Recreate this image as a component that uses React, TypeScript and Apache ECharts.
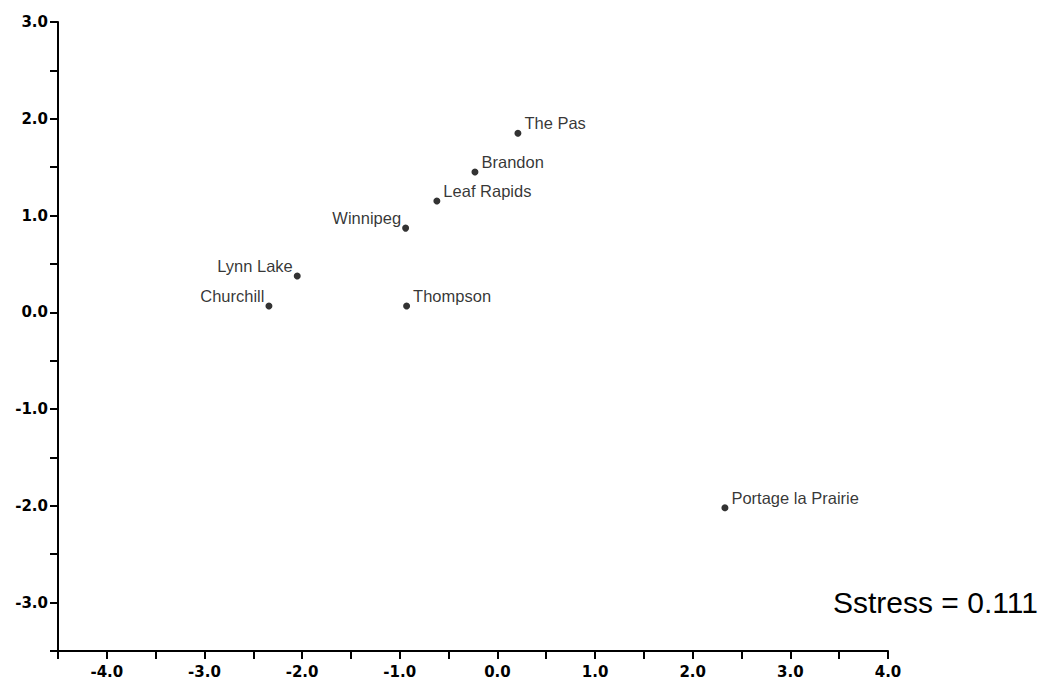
import React, { useEffect, useRef } from "react";
import * as echarts from "echarts";

const cities = ["The Pas", "Brandon", "Leaf Rapids", "Winnipeg", "Lynn Lake", "Churchill", "Thompson", "Portage la Prairie"];
const dimX = [0.21, -0.23, -0.62, -0.94, -2.05, -2.34, -0.93, 2.33];
const dimY = [1.85, 1.45, 1.15, 0.87, 0.375, 0.065, 0.065, -2.02];
const labelSide = ["right", "right", "right", "left", "left", "left", "right", "right"];
const stressText = "Sstress = 0.111";

const fmt = (v: number) => (Math.abs(v - Math.round(v)) < 1e-9 ? v.toFixed(1) : "");

export default function App() {
  const ref = useRef<HTMLDivElement>(null);
  useEffect(() => {
    if (!ref.current) return;
    const chart = echarts.init(ref.current, null, { renderer: "svg" });
    const axisLabel = {
      color: "#000",
      fontFamily: "DejaVu Sans",
      fontSize: 15,
      fontWeight: "bold" as const,
      formatter: fmt,
      showMinLabel: true,
      showMaxLabel: true,
    };
    const axisLine = { show: true, onZero: false, lineStyle: { color: "#000", width: 2 } };
    const axisTick = { show: true, length: 8, lineStyle: { color: "#000", width: 2 } };
    chart.setOption({
      animation: false,
      backgroundColor: "#fff",
      grid: { left: 58, right: 162, top: 22, bottom: 35 },
      xAxis: {
        type: "value",
        min: -4.5,
        max: 4.0,
        interval: 0.5,
        axisLine,
        axisTick,
        splitLine: { show: false },
        axisLabel: { ...axisLabel, margin: 13 },
      },
      yAxis: {
        type: "value",
        min: -3.5,
        max: 3.0,
        interval: 0.5,
        axisLine,
        axisTick,
        splitLine: { show: false },
        axisLabel: { ...axisLabel, margin: 10 },
      },
      series: [
        {
          type: "scatter",
          symbol: "circle",
          symbolSize: 7,
          itemStyle: { color: "#000" },
          data: cities.map((name, i) => ({
            name,
            value: [dimX[i], dimY[i]],
            label: {
              show: true,
              formatter: name,
              position: labelSide[i],
              distance: labelSide[i] === "left" ? 1 : 3,
              offset: [0, -10],
              color: "#000",
              fontFamily: "Liberation Sans",
              fontSize: 16.5,
            },
          })),
        },
      ],
      graphic: [
        {
          type: "text",
          left: 833,
          top: 587,
          style: {
            text: stressText,
            fill: "#000",
            font: "30px 'Liberation Sans'",
          },
        },
      ],
    });
    return () => chart.dispose();
  }, []);
  return (
    <div
      ref={ref}
      style={{ position: "fixed", left: 0, top: 0, width: 1050, height: 686, background: "#fff" }}
    />
  );
}
